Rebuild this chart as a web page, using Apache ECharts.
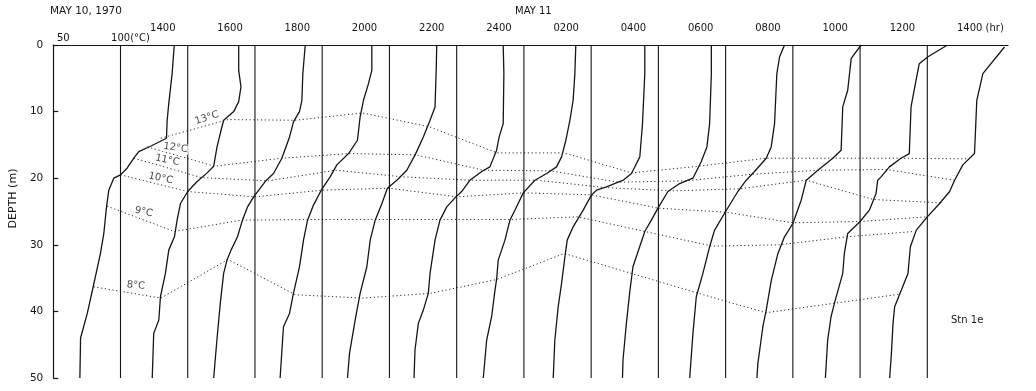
<!DOCTYPE html>
<html><head><meta charset="utf-8">
<script src="https://cdn.jsdelivr.net/npm/echarts@6/dist/echarts.min.js"></script>
<style>html,body{margin:0;padding:0;background:#fff}#c{width:1036px;height:391px}</style>
</head><body><div id="c"></div>
<script>
// ---- tick labels / categories ----
const times = ['1400','1600','1800','2000','2200','2400','0200','0400','0600','0800','1000','1200','1400 (hr)'];
const dates = ['MAY 10, 1970', 'MAY 11'];
const stationLabel = 'Stn 1e';
const tempTicks = [5, 10];          // shown as 50 and 100(°C)
const refTemp = 10;                 // vertical reference line of each profile (°C)
const offsetStep = 5;               // each profile is shifted 5 °C to the right

// ---- temperature profiles: [temperature °C, depth m] ----
const prof1400a = [[14.0,0],[13.84,4.3],[13.59,8.8],[13.47,11.3],[13.42,14.0],[12.23,15.2],[11.36,16.0],[10.99,17.0],[10.49,18.5],[10.0,19.5],[9.5,20.0],[9.13,21.8],[8.96,24.3],[8.76,28.3],[8.51,31.3],[7.97,36.3],[7.53,40.3],[7.03,44.0],[6.98,50]];
const prof1600 = [[13.79,0],[13.79,3.8],[13.96,6.3],[13.79,8.5],[13.42,10],[12.67,11.3],[12.48,12.8],[12.18,15.3],[11.93,18.2],[11.44,19.2],[10.70,20.5],[10.0,22.0],[9.46,23.8],[9.21,26.3],[9.01,28.8],[8.59,30.8],[8.34,34.3],[7.97,37.8],[7.85,41.3],[7.47,43.3],[7.36,50]];
const prof1800 = [[13.74,0],[13.56,4.3],[13.49,8.3],[13.31,10.0],[12.87,11.5],[12.57,13.8],[12.0,17.0],[11.38,19.3],[10.76,20.5],[9.9,22.8],[9.45,24.3],[9.07,26.3],[8.7,28.8],[8.22,30.8],[7.92,32.3],[7.67,34.3],[7.42,38.8],[7.17,44.3],[6.93,50]];
const prof2000 = [[13.69,0],[13.69,3.8],[13.44,5.8],[13.07,8.3],[12.82,10.8],[12.62,14.3],[11.96,16.3],[11.09,18.0],[10.59,19.8],[9.93,21.8],[9.36,24.0],[8.91,26.3],[8.61,29.3],[8.31,33.3],[7.86,37.3],[7.57,40.3],[7.12,42.3],[6.87,50]];
const prof2200 = [[13.52,0],[13.47,4.3],[13.39,9.3],[13.02,11.3],[12.52,13.8],[11.91,16.5],[11.29,18.8],[10.55,20.3],[9.85,21.5],[9.44,23.8],[8.94,26.3],[8.57,29.3],[8.32,33.3],[7.82,37.3],[7.45,41.3],[7.03,46.3],[6.88,50]];
const prof2400 = [[13.46,0],[13.51,4.3],[13.46,11.8],[13.16,13.8],[12.97,15.8],[12.47,18.3],[11.86,19.0],[10.99,20.3],[10.37,22.0],[9.95,22.8],[9.26,24.3],[8.76,26.3],[8.39,29.3],[8.02,34.3],[7.89,37.3],[7.52,39.8],[7.15,41.8],[6.9,45.8],[6.83,50]];
const prof0200 = [[13.86,0],[13.79,4.3],[13.66,8.3],[13.42,11.3],[13.12,14.3],[12.80,16.8],[12.43,18.3],[11.69,19.3],[10.82,20.3],[9.95,22.2],[9.33,24.8],[8.96,26.3],[8.59,29.3],[8.09,32.3],[7.97,35.2],[7.85,36.8],[7.60,40.8],[7.23,44.3],[6.98,50]];
const prof0400 = [[13.99,0],[13.99,4.3],[13.82,11.8],[13.62,16.8],[13.0,19.3],[12.38,20.3],[11.14,21.3],[10.4,21.8],[10.03,22.5],[9.41,24.8],[8.66,27.3],[8.22,29.3],[8.05,31.8],[7.8,35.8],[7.55,39.3],[7.3,44.3],[7.18,50]];
const prof0600 = [[13.94,0],[13.94,4.3],[13.81,11.8],[13.61,15.3],[13.19,17.5],[12.57,20.0],[11.58,20.8],[10.71,22.0],[9.97,24.5],[9.48,26.3],[8.99,28.0],[8.11,33.3],[7.86,37.3],[7.62,41.8],[7.37,47.3],[7.33,50]];
const prof0800 = [[14.38,0],[14.01,1.8],[13.81,4.3],[13.64,11.8],[13.39,15.3],[13.02,17.0],[12.15,19.0],[11.53,20.3],[10.91,22.0],[10.0,25.0],[9.18,27.8],[8.81,30.3],[8.31,34.3],[7.82,37.8],[7.57,43.3],[7.33,50]];
const prof1000 = [[15.08,0],[14.34,2.0],[14.08,6.8],[13.71,9.3],[13.59,15.8],[12.97,17.0],[11.86,18.8],[11.0,20.3],[10.62,23.3],[10.0,26.8],[9.38,28.8],[8.89,31.3],[8.40,35.3],[8.02,39.8],[7.77,42.3],[7.40,47.8],[7.33,50]];
const prof1200 = [[16.5,0],[15.02,1.8],[14.40,2.8],[14.16,5.3],[13.79,9.3],[13.66,16.3],[13.04,17.0],[12.18,18.3],[11.56,19.8],[11.31,20.3],[11.19,22.3],[10.69,24.8],[10.0,26.5],[9.08,28.3],[8.83,31.3],[8.71,34.3],[8.09,38.8],[7.84,40.8],[7.59,44.3],[7.42,50]];
const prof1400b = [[15.74,0.3],[14.13,4.3],[13.68,8.3],[13.51,16.3],[12.64,18.0],[12.03,20.3],[11.66,22.0],[10.91,23.8],[10.0,25.8],[9.18,27.8],[8.74,30.3],[8.56,34.3],[8.07,36.8],[7.57,39.3],[7.45,41.8],[7.33,46.3],[7.20,50]];
const profiles = [prof1400a,prof1600,prof1800,prof2000,prof2200,prof2400,prof0200,prof0400,prof0600,prof0800,prof1000,prof1200,prof1400b];

// ---- isotherm depths (m) at each profile ----
const isoTemps = [13, 12, 11, 10, 9, 8];
const iso13 = [14.0, 11.2, 11.3, 10.2, 12.3, 16.2, 16.2, 19.2, 18.2, 17.0, 17.0, 17.0, 17.1];
const iso12 = [15.3, 18.2, 17.0, 16.3, 16.5, 18.8, 18.9, 20.6, 20.4, 19.4, 18.8, 18.7, 20.3];
const iso11 = [17.0, 19.9, 20.4, 18.8, 19.8, 20.3, 20.3, 21.4, 21.9, 21.6, 20.3, 23.2, 23.7];
const iso10 = [19.5, 22.0, 22.8, 21.8, 21.5, 22.8, 22.2, 22.5, 24.5, 25.1, 26.7, 26.5, 25.8];
const iso9  = [24.2, 28.0, 26.3, 26.2, 26.2, 26.2, 26.2, 25.8, 28.0, 30.2, 30.0, 28.8, 28.0];
const iso8  = [36.3, 38.0, 32.2, 37.5, 38.0, 37.3, 35.2, 31.3, 34.3, 37.3, 40.2, 38.8, 37.4];
const isoDepths = [iso13, iso12, iso11, iso10, iso9, iso8];

// ---- styling / layout (not data) ----
const FONT = 'DejaVu Sans';
const INK = '#151515';
const isoLabelStyle = [
  {offset:[50,-5], rotate:18, bg:'transparent'},
  {offset:[28,-3], rotate:-8, bg:'#fff'},
  {offset:[33,-5], rotate:-12, bg:'#fff'},
  {offset:[40,-5], rotate:-12, bg:'#fff'},
  {offset:[37,-2], rotate:-12, bg:'#fff'},
  {offset:[42,-5], rotate:-5, bg:'#fff'}
];
const timeLabelAnchor = 12.2;  // axis value of first time label's left edge

const series = [];
// vertical reference lines
profiles.forEach((p, i) => {
  series.push({type:'line', silent:true, symbol:'none', z:2,
    data:[[refTemp + offsetStep*i, 0],[refTemp + offsetStep*i, 50]],
    lineStyle:{color:INK, width:1.1}});
});
// profiles
profiles.forEach((p, i) => {
  series.push({type:'line', silent:true, symbol:'none', z:3,
    data:p.map(([t,d]) => [t + offsetStep*i, d]),
    lineStyle:{color:INK, width:1.3}});
});
// isotherms
isoTemps.forEach((t, k) => {
  series.push({type:'line', silent:true, symbol:'none', z:1,
    data:isoDepths[k].map((d, i) => [t + offsetStep*i, d]),
    lineStyle:{color:'#2a2a2a', width:1, type:[1.2, 2.6]}});
});
// isotherm labels
series.push({type:'scatter', silent:true, z:5, symbolSize:1,
  itemStyle:{color:'rgba(0,0,0,0)'},
  data:isoTemps.map((t, k) => ({
    value:[t, isoDepths[k][0]],
    label:{show:true, position:'inside', formatter:t+'°C',
      offset:isoLabelStyle[k].offset, rotate:isoLabelStyle[k].rotate,
      backgroundColor:isoLabelStyle[k].bg, padding:[0,1],
      fontFamily:FONT, fontSize:10, color:INK}
  }))
});

const txt = {fontFamily:FONT, fontSize:10, fontWeight:'normal', color:INK};
const option = {
  animation:false,
  backgroundColor:'#fff',
  title:[
    {text:dates[0], left:50, top:6, padding:0, textStyle:Object.assign({}, txt, {fontSize:10.5})},
    {text:dates[1], left:515, top:6, padding:0, textStyle:txt},
    {text:stationLabel, left:951, top:315, padding:0, textStyle:txt}
  ],
  grid:{left:52, right:28, top:45, bottom:13},
  xAxis:[
    {type:'value', position:'top', min:5, max:76,
      axisLine:{show:true, lineStyle:{color:INK, width:1.2}},
      axisTick:{show:false}, splitLine:{show:false},
      axisLabel:{customValues:tempTicks, margin:2, align:'center', padding:[0,0,0,20],
        fontFamily:FONT, fontSize:10, color:INK,
        formatter:v => v === tempTicks[0] ? String(v*10) : (v*10) + '(°C)'}
    },
    {type:'value', position:'top', min:5, max:76, offset:10,
      axisLine:{show:false}, axisTick:{show:false}, splitLine:{show:false},
      axisLabel:{customValues:times.map((_, i) => timeLabelAnchor + offsetStep*i), align:'left', margin:2,
        fontFamily:FONT, fontSize:10, color:INK,
        formatter:v => times[Math.round((v - timeLabelAnchor)/offsetStep)] || ''}
    }
  ],
  yAxis:{type:'value', inverse:true, min:0, max:50, interval:10,
    name:'DEPTH (m)', nameLocation:'middle', nameGap:33, nameRotate:90,
    nameTextStyle:{fontFamily:FONT, fontSize:11, color:INK, padding:[0,0,0,26]},
    axisLine:{show:true, lineStyle:{color:INK, width:1.2}},
    axisTick:{show:true, inside:true, length:5, lineStyle:{color:INK, width:1.2}},
    splitLine:{show:false},
    axisLabel:{margin:10, fontFamily:FONT, fontSize:10.5, color:INK}
  },
  series
};
const chart = echarts.init(document.getElementById('c'), null, {renderer:'canvas'});
chart.setOption(option);
</script></body></html>
